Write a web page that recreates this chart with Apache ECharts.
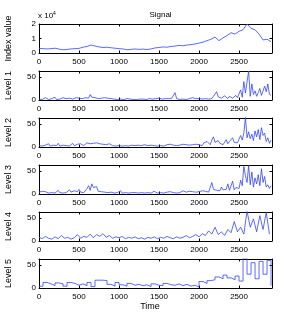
<!DOCTYPE html>
<html><head><meta charset="utf-8">
<script src="https://cdn.jsdelivr.net/npm/echarts@6/dist/echarts.min.js"></script>
<style>html,body{margin:0;padding:0;background:#fff}#c{width:300px;height:327px}</style>
</head><body><div id="c"></div>
<script>
// x tick labels
const xTicks = [0, 500, 1000, 1500, 2000, 2500];
const panelNames = ['Index value', 'Level 1', 'Level 2', 'Level 3', 'Level 4', 'Level 5'];

// Signal (units of 10^4), sampled every 50 time steps
const signalStep = 50;
const signal = [0.32,0.30,0.28,0.30,0.33,0.27,0.22,0.25,0.28,0.30,
  0.32,0.40,0.45,0.55,0.48,0.42,0.38,0.40,0.36,0.33,
  0.30,0.28,0.22,0.25,0.28,0.25,0.27,0.24,0.28,0.35,
  0.38,0.42,0.40,0.45,0.48,0.52,0.50,0.55,0.58,0.62,
  0.68,0.75,0.85,0.95,1.10,0.85,1.05,1.20,1.40,1.30,
  1.50,1.60,2.00,1.70,1.60,1.30,0.90,0.95,0.78];

// Level 1..3, sampled every 20 time steps
const levelStep = 20;
const level1 = [2,4,1,3,5,2,1,4,3,2,6,1,3,2,4,5,1,3,2,4,6,2,3,5,1,4,7,3,2,5,
  8,4,12,6,9,5,7,3,6,4,
  3,5,2,4,1,3,4,2,5,1,3,2,4,1,2,3,1,2,4,1,
  2,1,3,2,1,2,4,1,2,3,1,2,1,3,2,4,1,2,1,3,
  2,3,1,4,2,16,3,2,1,3,2,4,1,2,3,2,5,1,3,2,
  3,4,2,5,3,6,2,4,3,8,5,18,7,10,4,6,9,5,3,8,12,4,6,10,5,
  9,22,6,40,15,12,63,8,35,12,20,8,16,25,10,14,30,18,35,12,10];
const level2 = [3,5,2,6,4,3,7,2,5,4,6,3,8,2,5,4,7,3,6,2,5,8,3,4,6,2,7,5,3,6,
  9,12,7,10,8,6,9,5,7,4,
  6,3,5,2,7,4,3,5,2,4,3,6,2,4,3,5,2,3,4,2,
  3,2,4,1,3,2,5,2,3,1,4,2,3,5,2,4,3,6,2,4,
  5,3,6,2,4,8,3,5,4,2,6,3,5,7,4,2,5,3,6,4,
  5,7,3,9,6,12,8,5,15,22,10,6,14,8,11,5,9,16,7,12,8,20,10,14,9,
  12,25,15,30,65,20,33,18,28,14,35,22,38,16,42,25,30,12,20,8,15];
const level3 = [4,2,6,3,5,7,2,4,3,6,2,5,8,3,4,2,6,3,5,9,4,2,7,3,5,10,4,8,3,6,
  12,18,8,22,14,10,16,6,9,5,
  8,4,6,3,7,4,5,2,6,3,4,7,2,5,3,4,2,5,3,4,
  3,5,2,4,3,6,2,4,3,5,2,4,6,3,2,5,3,4,2,3,
  4,2,5,8,3,6,2,4,3,5,7,3,4,2,6,3,5,8,4,3,
  5,3,7,4,6,8,4,5,25,10,6,8,12,7,15,9,6,10,22,8,12,28,9,14,10,
  12,30,18,60,40,25,62,20,48,15,35,22,42,18,55,25,38,15,20,12,18];

// Level 4, sampled every 40 time steps
const level4Step = 40;
const level4 = [8,5,10,6,4,9,5,12,6,8,4,7,14,6,10,
  8,15,7,14,10,16,8,12,6,9,
  7,10,5,8,6,9,5,7,4,8,
  6,9,5,8,6,10,7,5,9,6,
  8,12,7,10,14,9,16,12,22,15,
  30,14,20,12,25,18,42,20,30,15,
  65,30,48,20,55,25,62,15];

// Level 5, held values every 50 time steps
const level5Step = 50;
const level5 = [4,12,9,5,11,9,4,12,10,6,
  9,5,12,3,17,17,16,8,4,12,
  7,4,10,6,8,5,7,3,9,6,
  5,10,7,6,9,5,8,4,6,2,
  14,10,16,18,24,20,28,22,18,26,
  15,65,30,55,20,58,30,60,5];

const FONT = "'Liberation Sans Narrow', 'Liberation Sans', Arial, sans-serif";
const xMax = 2912;
const tops = [24, 71, 118, 165, 212, 259];
const H = 29;
const panels = [
  {vals: signal, step: signalStep, max: 2, interval: 1, stepMode: false},
  {vals: level1, step: levelStep, max: 63, interval: 50, stepMode: false},
  {vals: level2, step: levelStep, max: 63, interval: 50, stepMode: false},
  {vals: level3, step: levelStep, max: 63, interval: 50, stepMode: false},
  {vals: level4, step: level4Step, max: 63, interval: 50, stepMode: false},
  {vals: level5, step: level5Step, max: 63, interval: 50, stepMode: 'end'}
];

const grid = [], xAxis = [], yAxis = [], series = [];
panels.forEach((p, i) => {
  grid.push({left: 39, right: 28, top: tops[i], height: H, show: false, containLabel: false, outerBoundsMode: 'none'});
  const lineStyle = {color: '#000', width: 1};
  const tickStyle = {show: true, inside: true, length: 2.5, lineStyle: {color: '#000', width: 1}};
  xAxis.push({gridIndex: i, type: 'value', min: 0, max: xMax, interval: 500, position: 'bottom',
    axisLine: {show: true, onZero: false, lineStyle}, axisTick: tickStyle, splitLine: {show: false},
    axisLabel: {fontFamily: FONT, fontSize: 8, color: '#000', margin: 5, showMaxLabel: false,
      formatter: v => xTicks.includes(v) ? String(v) : ''}});
  xAxis.push({gridIndex: i, type: 'value', min: 0, max: xMax, interval: 500, position: 'top',
    axisLine: {show: true, onZero: false, lineStyle}, axisTick: tickStyle, splitLine: {show: false},
    axisLabel: {show: false}});
  yAxis.push({gridIndex: i, type: 'value', min: 0, max: p.max, interval: p.interval, position: 'left',
    name: panelNames[i], nameLocation: 'middle', nameGap: 26, nameRotate: 90, nameMoveOverlap: false,
    nameTextStyle: {fontFamily: FONT, fontSize: 9, color: '#000'},
    axisLine: {show: true, onZero: false, lineStyle}, axisTick: tickStyle, splitLine: {show: false},
    axisLabel: {fontFamily: FONT, fontSize: 8, color: '#000', margin: 3,
      formatter: v => (v % p.interval === 0) ? String(v) : ''}});
  yAxis.push({gridIndex: i, type: 'value', min: 0, max: p.max, interval: p.interval, position: 'right',
    axisLine: {show: true, onZero: false, lineStyle}, axisTick: tickStyle, splitLine: {show: false},
    axisLabel: {show: false}});
  series.push({type: 'line', xAxisIndex: 2 * i, yAxisIndex: 2 * i,
    data: p.vals.map((v, k) => [k * p.step, v]),
    step: p.stepMode, showSymbol: false, symbol: 'none', animation: false, clip: true,
    lineStyle: {color: '#3344ff', width: 0.8}});
});

const chart = echarts.init(document.getElementById('c'), null, {renderer: 'canvas'});
chart.setOption({
  animation: false,
  backgroundColor: '#fff',
  title: {text: 'Signal', left: 155.5, textAlign: 'center', top: 6,
    textStyle: {fontFamily: FONT, fontSize: 8, fontWeight: 'normal', color: '#000'}},
  grid, xAxis, yAxis, series,
  graphic: [
    {type: 'text', left: 38, top: 11, style: {
      text: '{a|x 10}{b|4}', fill: '#000',
      rich: {a: {fontFamily: FONT, fontSize: 8, fill: '#000'},
             b: {fontFamily: FONT, fontSize: 5, fill: '#000', verticalAlign: 'top', padding: [0,0,5,0]}}}},
    {type: 'text', left: 'center', top: 302, style: {text: 'Time', fontFamily: FONT, fontSize: 9, fill: '#000'}}
  ]
});
</script></body></html>
